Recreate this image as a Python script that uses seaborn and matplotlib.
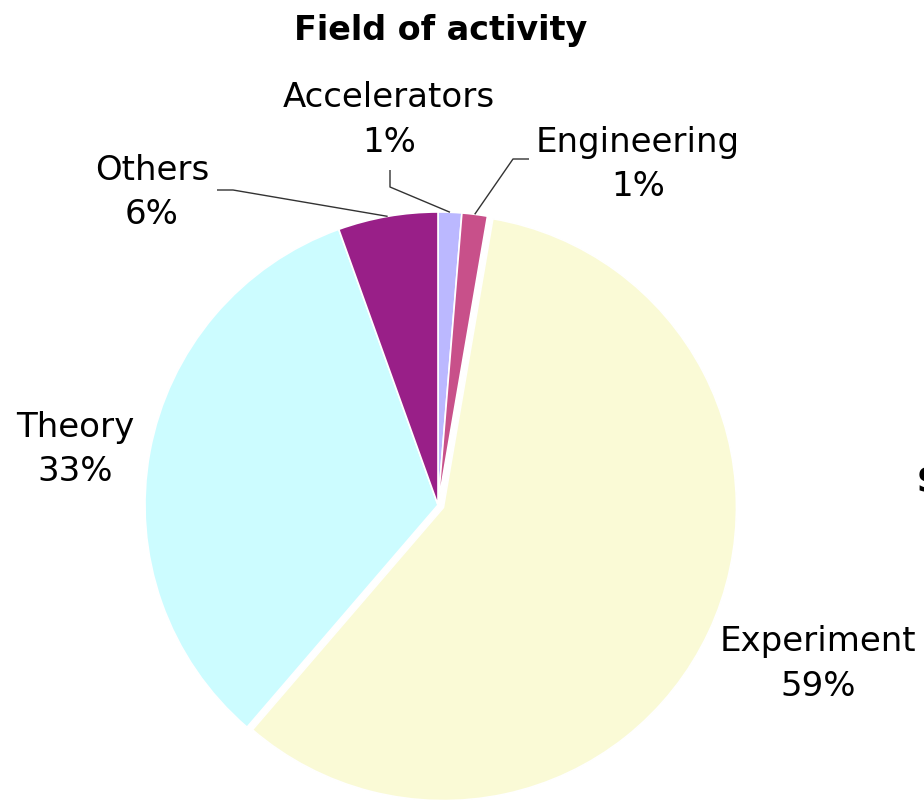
import numpy as np
import matplotlib
matplotlib.use("Agg")
import matplotlib.pyplot as plt
import seaborn as sns

# ---- data (clockwise from 12 o'clock) ----
categories = ["Accelerators", "Engineering", "Experiment", "Theory", "Others"]
shares = [1.3, 1.4, 58.6, 33.2, 5.5]
pct_labels = ["1%", "1%", "59%", "33%", "6%"]
colors = ["#BBB8FF", "#C8508A", "#FAFAD6", "#CCFCFF", "#991F88"]

sns.set_theme(style="white")
plt.rcParams["font.family"] = ["DejaVu Sans"]

W, H = 924, 800
fig = plt.figure(figsize=(W / 100, H / 100), dpi=100)
ax = fig.add_axes([0, 0, 1, 1])

cx, cy, R = 438, H - 505, 293
# Experiment wedge pulled out slightly (offset in axis units = pixels here)
explode = [6 if c == "Experiment" else 0 for c in categories]
wedges, _ = ax.pie(shares, colors=sns.color_palette(colors), startangle=90,
                   counterclock=False, center=(cx, cy), radius=R,
                   explode=explode, frame=True,
                   wedgeprops=dict(edgecolor="white", linewidth=1.2))
ax.set_xlim(0, W)
ax.set_ylim(0, H)
ax.set_aspect("equal")
ax.axis("off")

fs = 24.5
# label layout (pixel coords, y from top): x centre, name baseline, pct baseline
layout = {
    "Accelerators": (389, 107, 152),
    "Engineering": (638, 152, 196),
    "Experiment": (818, 651, 696),
    "Theory": (75, 437, 481),
    "Others": (152, 180, 224),
}
for name, pct in zip(categories, pct_labels):
    x, y1, y2 = layout[name]
    ax.text(x, H - y1, name, ha="center", va="baseline", fontsize=fs, color="black")
    ax.text(x, H - y2, pct, ha="center", va="baseline", fontsize=fs, color="black")

# leader lines: knee points from label side, end at wedge mid-angle on rim
leaders = {
    "Accelerators": [(390, 170), (390, 187)],
    "Engineering": [(529, 159), (513, 159)],
    "Others": [(217, 190), (233, 190)],
}
for w, name in zip(wedges, categories):
    if name not in leaders:
        continue
    ang = np.deg2rad((w.theta1 + w.theta2) / 2)
    ex = cx + R * np.cos(ang)
    ey = cy + R * np.sin(ang)
    pts = [(px, H - py) for px, py in leaders[name]] + [(ex, ey)]
    xs, ys = zip(*pts)
    ax.plot(xs, ys, color="#333333", lw=1.0, solid_capstyle="butt")

ax.text(441, H - 40, "Field of activity", ha="center", va="baseline",
        fontsize=24, fontweight="bold", color="black")
# heading of a neighbouring chart, cut off at the right edge as in the reference
ax.text(917, H - 492, "S", ha="left", va="baseline",
        fontsize=24, fontweight="bold", color="black")

fig.savefig("out.png", dpi=100, facecolor="white")
